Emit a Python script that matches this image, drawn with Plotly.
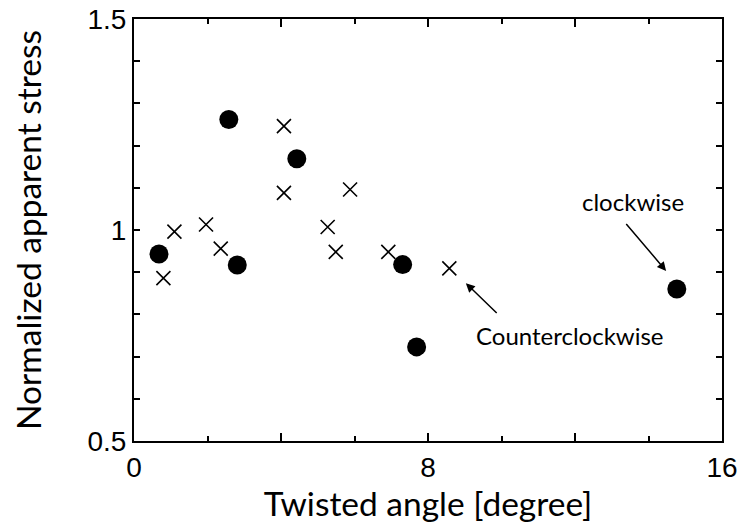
import plotly.graph_objects as go

# Clockwise (filled circles)
cw_x = [0.68, 2.58, 2.81, 4.43, 7.31, 7.69, 14.77]
cw_y = [0.943, 1.262, 0.917, 1.169, 0.918, 0.723, 0.860]
# Counterclockwise (crosses)
ccw_x = [0.80, 1.10, 1.96, 2.36, 4.08, 4.08, 5.27, 5.49, 5.88, 6.92, 8.58]
ccw_y = [0.886, 0.996, 1.013, 0.956, 1.246, 1.088, 1.007, 0.948, 1.096, 0.948, 0.909]

x_tickvals = [0, 4, 8, 12, 16]
x_ticktext = ["0", "", "8", "", "16"]
y_tickvals = [0.5, 0.6, 0.7, 0.8, 0.9, 1.0, 1.1, 1.2, 1.3, 1.4, 1.5]
y_ticktext = ["0.5", "", "", "", "", "1", "", "", "", "", "1.5"]

xtitle_font = dict(family="Lato, Open Sans, sans-serif", size=33.5, color="black")
ytitle_font = dict(family="Lato, Open Sans, sans-serif", size=33.5, color="black")
tick_font = dict(family="Liberation Sans, Arial, sans-serif", size=28, color="black")
ann_font = dict(family="Lato, Open Sans, sans-serif", size=24, color="black")

fig = go.Figure()
fig.add_trace(go.Scatter(
    x=ccw_x, y=ccw_y, mode="markers", name="Counterclockwise",
    marker=dict(symbol="x-thin-open", size=14, color="black",
                line=dict(color="black", width=1.6)),
))
fig.add_trace(go.Scatter(
    x=cw_x, y=cw_y, mode="markers", name="clockwise",
    marker=dict(symbol="circle", size=19, color="black", line=dict(width=0)),
))

fig.add_annotation(x=13.58, y=1.067, text="clockwise", showarrow=False,
                   font=ann_font, xref="x", yref="y")
fig.add_annotation(x=14.48, y=0.903, ax=13.36, ay=1.018, axref="x", ayref="y",
                   xref="x", yref="y", text="", showarrow=True,
                   arrowhead=2, arrowsize=1.2, arrowwidth=1.5, arrowcolor="black")
fig.add_annotation(x=11.86, y=0.751, text="Counterclockwise", showarrow=False,
                   font=ann_font, xref="x", yref="y")
fig.add_annotation(x=9.03, y=0.874, ax=9.91, ay=0.800, axref="x", ayref="y",
                   xref="x", yref="y", text="", showarrow=True,
                   arrowhead=2, arrowsize=1.2, arrowwidth=1.5, arrowcolor="black")

fig.update_layout(
    width=743, height=531,
    margin=dict(l=134, r=21, t=19, b=90, autoexpand=False),
    paper_bgcolor="white", plot_bgcolor="white",
    showlegend=False,
    xaxis=dict(
        range=[0, 16], tickmode="array", tickvals=x_tickvals, ticktext=x_ticktext,
        ticks="inside", ticklen=8, tickwidth=1.5, tickcolor="black",
        minor=dict(dtick=2, ticks="inside", ticklen=5, tickwidth=1.5, tickcolor="black"),
        showline=True, linewidth=2, linecolor="black", mirror="ticks",
        showgrid=False, zeroline=False, tickfont=tick_font, automargin=False,
        title=dict(text="Twisted angle [degree]", font=xtitle_font, standoff=4),
    ),
    yaxis=dict(
        range=[0.5, 1.5], tickmode="array", tickvals=y_tickvals, ticktext=y_ticktext,
        ticks="inside", ticklen=6, tickwidth=1.5, tickcolor="black",
        showline=True, linewidth=2, linecolor="black", mirror="ticks",
        showgrid=False, zeroline=False, tickfont=tick_font, automargin=False,
        title=dict(text="Normalized apparent stress", font=ytitle_font, standoff=36),
    ),
)

fig.write_html("out.html")
